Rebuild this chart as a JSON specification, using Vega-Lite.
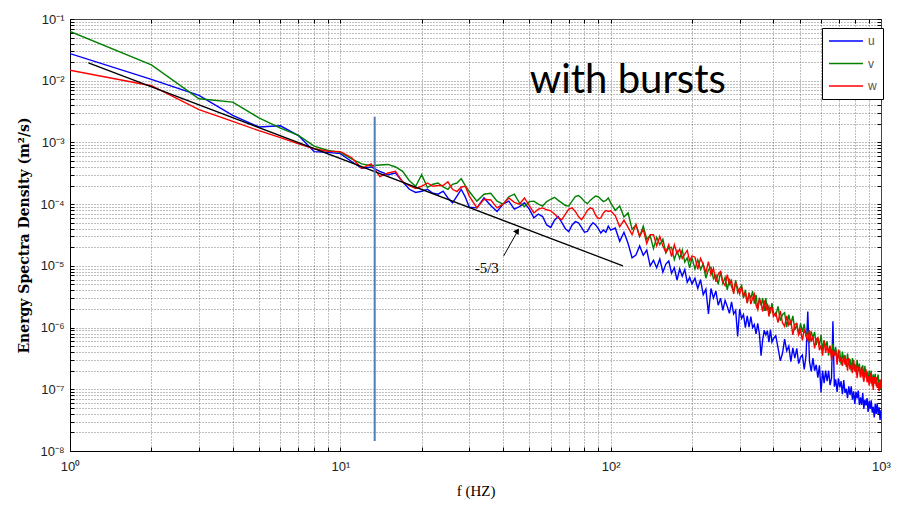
{
  "$schema": "https://vega.github.io/schema/vega-lite/v6.json",
  "width": 811,
  "height": 432,
  "autosize": {"type": "none"},
  "padding": {"left": 70, "top": 19, "right": 18, "bottom": 57},
  "background": "#ffffff",
  "config": {"view": {"stroke": "#222", "strokeWidth": 1}},
  "datasets": {
    "spectra": [
      {"f":1,"u":2.75e-2,"v":6.3e-2,"w":1.48e-2},
      {"f":2,"u":1.05e-2,"v":1.8e-2,"w":8.3e-3},
      {"f":3,"u":5.8e-3,"v":5.1e-3,"w":3.4e-3},
      {"f":4,"u":2.75e-3,"v":4.5e-3,"w":2.2e-3},
      {"f":5,"u":1.78e-3,"v":2.5e-3,"w":1.55e-3},
      {"f":6,"u":1.86e-3,"v":1.7e-3,"w":1.2e-3},
      {"f":7,"u":1.29e-3,"v":1.3e-3,"w":9.5e-4},
      {"f":8,"u":7.1e-4,"v":8.7e-4,"w":7.9e-4},
      {"f":9,"u":6.9e-4,"v":7.4e-4,"w":7.2e-4},
      {"f":10,"u":6.6e-4,"v":6.9e-4,"w":7.1e-4},
      {"f":11,"u":4.9e-4,"v":5.4e-4,"w":5.7e-4},
      {"f":12,"u":3.8e-4,"v":4.5e-4,"w":3.8e-4},
      {"f":13,"u":4.0e-4,"v":4.2e-4,"w":4.5e-4},
      {"f":14,"u":3.4e-4,"v":4.3e-4,"w":2.8e-4},
      {"f":15,"u":3.0e-4,"v":4.4e-4,"w":3.2e-4},
      {"f":16,"u":3.2e-4,"v":4.0e-4,"w":3.4e-4},
      {"f":17,"u":2.3e-4,"v":3.4e-4,"w":2.3e-4},
      {"f":18,"u":1.74e-4,"v":2.4e-4,"w":2.0e-4},
      {"f":19,"u":1.55e-4,"v":1.95e-4,"w":1.8e-4},
      {"f":20,"u":1.62e-4,"v":3.0e-4,"w":1.95e-4},
      {"f":21,"u":1.74e-4,"v":1.86e-4,"w":2.2e-4},
      {"f":22,"u":1.5e-4,"v":2.1e-4,"w":1.95e-4},
      {"f":23,"u":1.45e-4,"v":2.2e-4,"w":2.0e-4},
      {"f":24,"u":1.62e-4,"v":1.9e-4,"w":2.0e-4},
      {"f":25,"u":1.26e-4,"v":1.74e-4,"w":2.3e-4},
      {"f":26,"u":1.05e-4,"v":2.1e-4,"w":1.74e-4},
      {"f":27,"u":1.35e-4,"v":2.2e-4,"w":1.6e-4},
      {"f":28,"u":1.74e-4,"v":2.6e-4,"w":1.9e-4},
      {"f":29,"u":1.3e-4,"v":2.0e-4,"w":1.95e-4},
      {"f":30,"u":8.9e-5,"v":1.6e-4,"w":1.35e-4},
      {"f":32,"u":8.7e-5,"v":1.12e-4,"w":8.7e-5},
      {"f":34,"u":1.26e-4,"v":1.45e-4,"w":1.2e-4},
      {"f":36,"u":9.5e-5,"v":1.5e-4,"w":1.17e-4},
      {"f":38,"u":7.6e-5,"v":1.12e-4,"w":8.7e-5},
      {"f":40,"u":1.0e-4,"v":1.0e-4,"w":1.0e-4},
      {"f":42,"u":1.12e-4,"v":1.32e-4,"w":1.26e-4},
      {"f":44,"u":8.3e-5,"v":1.45e-4,"w":1.07e-4},
      {"f":46,"u":9.1e-5,"v":1.05e-4,"w":1.0e-4},
      {"f":48,"u":1.05e-4,"v":9.1e-5,"w":1.26e-4},
      {"f":50,"u":8.3e-5,"v":1.1e-4,"w":9.5e-5},
      {"f":52,"u":6.0e-5,"v":1.12e-4,"w":7.2e-5},
      {"f":54,"u":6.9e-5,"v":1.0e-4,"w":8.3e-5},
      {"f":56,"u":6.3e-5,"v":9.3e-5,"w":8.7e-5},
      {"f":58,"u":4.6e-5,"v":1.1e-4,"w":8.1e-5},
      {"f":60,"u":4.2e-5,"v":1.2e-4,"w":7.8e-5},
      {"f":62,"u":5.5e-5,"v":1.29e-4,"w":6.9e-5},
      {"f":64,"u":6.3e-5,"v":1.15e-4,"w":6.0e-5},
      {"f":66,"u":5.0e-5,"v":1.05e-4,"w":5.6e-5},
      {"f":68,"u":4.0e-5,"v":9.5e-5,"w":6.9e-5},
      {"f":70,"u":3.6e-5,"v":9.3e-5,"w":8.3e-5},
      {"f":72,"u":4.6e-5,"v":1.12e-4,"w":8.7e-5},
      {"f":74,"u":5.2e-5,"v":1.32e-4,"w":7.6e-5},
      {"f":76,"u":5.0e-5,"v":1.38e-4,"w":6.3e-5},
      {"f":78,"u":4.2e-5,"v":1.26e-4,"w":5.6e-5},
      {"f":80,"u":3.5e-5,"v":1.1e-4,"w":6.6e-5},
      {"f":82,"u":3.6e-5,"v":1.02e-4,"w":7.9e-5},
      {"f":84,"u":4.4e-5,"v":1.15e-4,"w":8.7e-5},
      {"f":86,"u":5.0e-5,"v":1.26e-4,"w":8.3e-5},
      {"f":88,"u":4.6e-5,"v":1.35e-4,"w":6.6e-5},
      {"f":90,"u":4.0e-5,"v":1.32e-4,"w":5.8e-5},
      {"f":92,"u":3.4e-5,"v":1.2e-4,"w":6.0e-5},
      {"f":94,"u":3.8e-5,"v":1.1e-4,"w":7.2e-5},
      {"f":96,"u":3.5e-5,"v":1.15e-4,"w":7.9e-5},
      {"f":98,"u":4.4e-5,"v":1.26e-4,"w":7.6e-5},
      {"f":100,"u":3.8e-5,"v":1.05e-4,"w":7.8e-5},
      {"f":104,"u":4.1e-5,"v":7.9e-5,"w":6.5e-5},
      {"f":108,"u":2.5e-5,"v":9.3e-5,"w":4.3e-5},
      {"f":112,"u":3.5e-5,"v":6.2e-5,"w":5.5e-5},
      {"f":116,"u":2.3e-5,"v":7.2e-5,"w":4.2e-5},
      {"f":120,"u":1.35e-5,"v":3.9e-5,"w":3.2e-5},
      {"f":124,"u":1.5e-5,"v":4.6e-5,"w":4.7e-5},
      {"f":128,"u":2.1e-5,"v":3.0e-5,"w":3.0e-5},
      {"f":132,"u":1.48e-5,"v":4.4e-5,"w":3.9e-5},
      {"f":136,"u":1.8e-5,"v":2.7e-5,"w":2.3e-5},
      {"f":140,"u":1.0e-5,"v":3.1e-5,"w":3.2e-5},
      {"f":144,"u":1.23e-5,"v":1.9e-5,"w":3.2e-5},
      {"f":148,"u":9.3e-6,"v":2.9e-5,"w":2.1e-5},
      {"f":152,"u":1.29e-5,"v":2.2e-5,"w":3.0e-5},
      {"f":156,"u":7.9e-6,"v":2.7e-5,"w":2.1e-5},
      {"f":160,"u":1.07e-5,"v":1.62e-5,"w":1.66e-5},
      {"f":164,"u":1.2e-5,"v":1.95e-5,"w":2.2e-5},
      {"f":168,"u":7.6e-6,"v":2.0e-5,"w":1.41e-5},
      {"f":172,"u":9.3e-6,"v":1.26e-5,"w":2.2e-5},
      {"f":176,"u":5.9e-6,"v":1.74e-5,"w":1.58e-5},
      {"f":180,"u":8.9e-6,"v":1.32e-5,"w":1.86e-5},
      {"f":184,"u":6.8e-6,"v":1.8e-5,"w":1.32e-5},
      {"f":188,"u":8.7e-6,"v":1.15e-5,"w":1.55e-5},
      {"f":192,"u":5.4e-6,"v":1.35e-5,"w":1.78e-5},
      {"f":196,"u":6.5e-6,"v":9.3e-6,"w":1.2e-5},
      {"f":200,"u":5.1e-6,"v":1.35e-5,"w":1.45e-5},
      {"f":205,"u":6.3e-6,"v":8.9e-6,"w":1.38e-5},
      {"f":210,"u":4.3e-6,"v":1.26e-5,"w":8.9e-6},
      {"f":215,"u":6.0e-6,"v":8.7e-6,"w":1.32e-5},
      {"f":220,"u":3.4e-6,"v":1.07e-5,"w":1.05e-5},
      {"f":225,"u":4.2e-6,"v":6.3e-6,"w":7.8e-6},
      {"f":230,"u":1.66e-6,"v":8.7e-6,"w":1.17e-5},
      {"f":235,"u":4.3e-6,"v":9.5e-6,"w":7.2e-6},
      {"f":240,"u":3.0e-6,"v":6.2e-6,"w":9.1e-6},
      {"f":245,"u":3.9e-6,"v":7.1e-6,"w":5.5e-6},
      {"f":250,"u":2.3e-6,"v":5.0e-6,"w":7.4e-6},
      {"f":255,"u":3.0e-6,"v":8.1e-6,"w":8.1e-6},
      {"f":260,"u":1.9e-6,"v":5.2e-6,"w":5.5e-6},
      {"f":265,"u":2.75e-6,"v":6.5e-6,"w":4.8e-6},
      {"f":270,"u":2.2e-6,"v":4.1e-6,"w":7.2e-6},
      {"f":275,"u":1.7e-6,"v":6.2e-6,"w":5.0e-6},
      {"f":280,"u":2.6e-6,"v":4.6e-6,"w":5.8e-6},
      {"f":285,"u":1.66e-6,"v":3.8e-6,"w":3.5e-6},
      {"f":290,"u":1.9e-6,"v":5.8e-6,"w":5.4e-6},
      {"f":295,"u":7.2e-7,"v":3.7e-6,"w":4.4e-6},
      {"f":300,"u":2.0e-6,"v":4.3e-6,"w":3.5e-6},
      {"f":305,"u":1.41e-6,"v":4.8e-6,"w":4.6e-6},
      {"f":310,"u":1.62e-6,"v":3.0e-6,"w":3.2e-6},
      {"f":315,"u":1.0e-6,"v":4.1e-6,"w":3.7e-6},
      {"f":320,"u":1.55e-6,"v":2.5e-6,"w":2.5e-6},
      {"f":325,"u":1.02e-6,"v":3.5e-6,"w":3.7e-6},
      {"f":330,"u":1.51e-6,"v":3.0e-6,"w":2.4e-6},
      {"f":335,"u":1.0e-6,"v":3.9e-6,"w":3.0e-6},
      {"f":340,"u":1.12e-6,"v":2.45e-6,"w":3.5e-6},
      {"f":345,"u":7.9e-7,"v":3.4e-6,"w":2.3e-6},
      {"f":350,"u":1.17e-6,"v":2.0e-6,"w":1.95e-6},
      {"f":355,"u":7.9e-7,"v":3.0e-6,"w":2.9e-6},
      {"f":360,"u":3.5e-7,"v":2.3e-6,"w":2.5e-6},
      {"f":365,"u":6.3e-7,"v":3.0e-6,"w":1.82e-6},
      {"f":370,"u":9.1e-7,"v":1.86e-6,"w":2.75e-6},
      {"f":375,"u":7.6e-7,"v":3.0e-6,"w":1.86e-6},
      {"f":380,"u":8.9e-7,"v":1.9e-6,"w":2.45e-6},
      {"f":385,"u":5.8e-7,"v":2.2e-6,"w":1.51e-6},
      {"f":390,"u":9.3e-7,"v":1.7e-6,"w":2.1e-6},
      {"f":395,"u":5.8e-7,"v":2.5e-6,"w":2.1e-6},
      {"f":400,"u":6.6e-7,"v":1.74e-6,"w":1.51e-6},
      {"f":408,"u":7.4e-7,"v":1.55e-6,"w":1.74e-6},
      {"f":416,"u":4.7e-7,"v":2.2e-6,"w":1.2e-6},
      {"f":424,"u":2.9e-7,"v":1.29e-6,"w":1.86e-6},
      {"f":432,"u":3.8e-7,"v":1.62e-6,"w":1.2e-6},
      {"f":440,"u":6.5e-7,"v":1.74e-6,"w":1.05e-6},
      {"f":448,"u":4.2e-7,"v":1.02e-6,"w":1.55e-6},
      {"f":456,"u":5.0e-7,"v":1.62e-6,"w":1.1e-6},
      {"f":464,"u":2.8e-7,"v":1.1e-6,"w":1.29e-6},
      {"f":472,"u":4.7e-7,"v":1.55e-6,"w":7.6e-7},
      {"f":480,"u":3.2e-7,"v":9.1e-7,"w":1.12e-6},
      {"f":488,"u":4.6e-7,"v":1.1e-6,"w":1.17e-6},
      {"f":496,"u":2.6e-7,"v":7.8e-7,"w":7.6e-7},
      {"f":504,"u":3.3e-7,"v":1.17e-6,"w":9.1e-7},
      {"f":512,"u":3.6e-7,"v":8.5e-7,"w":6.2e-7},
      {"f":520,"u":2.1e-7,"v":1.15e-6,"w":9.5e-7},
      {"f":528,"u":3.5e-7,"v":7.1e-7,"w":7.6e-7},
      {"f":536,"u":1.82e-6,"v":8.9e-7,"w":5.9e-7},
      {"f":544,"u":2.8e-7,"v":5.6e-7,"w":9.1e-7},
      {"f":552,"u":1.95e-7,"v":8.7e-7,"w":5.9e-7},
      {"f":560,"u":3.2e-7,"v":6.8e-7,"w":7.2e-7},
      {"f":568,"u":2.0e-7,"v":8.5e-7,"w":4.6e-7},
      {"f":576,"u":2.5e-7,"v":5.2e-7,"w":6.5e-7},
      {"f":584,"u":1.55e-7,"v":6.8e-7,"w":6.9e-7},
      {"f":592,"u":2.45e-7,"v":5.1e-7,"w":4.3e-7},
      {"f":600,"u":8.9e-8,"v":7.6e-7,"w":5.2e-7},
      {"f":608,"u":2.0e-7,"v":4.3e-7,"w":3.5e-7},
      {"f":616,"u":1.26e-7,"v":6.2e-7,"w":6.2e-7},
      {"f":624,"u":2.0e-7,"v":4.8e-7,"w":3.9e-7},
      {"f":632,"u":1.35e-7,"v":6.0e-7,"w":5.1e-7},
      {"f":640,"u":2.0e-7,"v":3.5e-7,"w":3.9e-7},
      {"f":648,"u":1.17e-7,"v":5.0e-7,"w":5.1e-7},
      {"f":656,"u":1.51e-7,"v":3.5e-7,"w":3.0e-7},
      {"f":664,"u":1.26e-6,"v":5.5e-7,"w":4.3e-7},
      {"f":672,"u":1.1e-7,"v":3.6e-7,"w":3.5e-7},
      {"f":680,"u":1.45e-7,"v":4.8e-7,"w":4.3e-7},
      {"f":688,"u":9.1e-8,"v":2.9e-7,"w":2.5e-7},
      {"f":696,"u":1.51e-7,"v":3.9e-7,"w":4.4e-7},
      {"f":704,"u":1.07e-7,"v":4.1e-7,"w":2.75e-7},
      {"f":712,"u":1.35e-7,"v":2.5e-7,"w":3.3e-7},
      {"f":720,"u":8.3e-8,"v":4.1e-7,"w":2.4e-7},
      {"f":728,"u":1.41e-7,"v":2.8e-7,"w":3.5e-7},
      {"f":736,"u":8.7e-8,"v":3.6e-7,"w":2.5e-7},
      {"f":744,"u":1.02e-7,"v":2.3e-7,"w":3.1e-7},
      {"f":752,"u":7.2e-8,"v":3.8e-7,"w":2.0e-7},
      {"f":760,"u":1.12e-7,"v":2.6e-7,"w":3.2e-7},
      {"f":768,"u":8.1e-8,"v":3.1e-7,"w":2.1e-7},
      {"f":776,"u":1.12e-7,"v":2.0e-7,"w":2.45e-7},
      {"f":784,"u":6.8e-8,"v":3.2e-7,"w":1.82e-7},
      {"f":792,"u":9.3e-8,"v":2.1e-7,"w":3.0e-7},
      {"f":800,"u":5.8e-8,"v":2.6e-7,"w":1.95e-7},
      {"f":808,"u":9.1e-8,"v":1.86e-7,"w":2.45e-7},
      {"f":816,"u":7.1e-8,"v":3.0e-7,"w":1.51e-7},
      {"f":824,"u":9.5e-8,"v":1.95e-7,"w":2.2e-7},
      {"f":832,"u":5.6e-8,"v":2.6e-7,"w":2.3e-7},
      {"f":840,"u":7.4e-8,"v":1.58e-7,"w":1.55e-7},
      {"f":848,"u":5.6e-8,"v":2.1e-7,"w":2.3e-7},
      {"f":856,"u":8.7e-8,"v":2.45e-7,"w":1.66e-7},
      {"f":864,"u":4.8e-8,"v":1.55e-7,"w":1.32e-7},
      {"f":872,"u":6.8e-8,"v":2.4e-7,"w":1.86e-7},
      {"f":880,"u":5.5e-8,"v":1.55e-7,"w":2.1e-7},
      {"f":888,"u":7.2e-8,"v":1.95e-7,"w":1.29e-7},
      {"f":896,"u":4.3e-8,"v":1.35e-7,"w":1.62e-7},
      {"f":904,"u":6.5e-8,"v":2.0e-7,"w":1.15e-7},
      {"f":912,"u":4.8e-8,"v":1.55e-7,"w":1.82e-7},
      {"f":920,"u":6.6e-8,"v":2.0e-7,"w":1.23e-7},
      {"f":928,"u":4.2e-8,"v":1.12e-7,"w":1.58e-7},
      {"f":936,"u":5.2e-8,"v":1.74e-7,"w":9.8e-8},
      {"f":944,"u":3.5e-8,"v":1.32e-7,"w":1.58e-7},
      {"f":952,"u":5.8e-8,"v":1.78e-7,"w":1.23e-7},
      {"f":960,"u":4.0e-8,"v":1.12e-7,"w":1.58e-7},
      {"f":968,"u":5.9e-8,"v":1.45e-7,"w":1.05e-7},
      {"f":976,"u":4.0e-8,"v":1.74e-7,"w":1.29e-7},
      {"f":984,"u":5.1e-8,"v":1.1e-7,"w":9.3e-8},
      {"f":992,"u":3.2e-8,"v":1.41e-7,"w":1.45e-7},
      {"f":1000,"u":4.6e-8,"v":9.8e-8,"w":1.02e-7}
    ]
  },
  "resolve": {"axis": {"x": "independent", "y": "independent"}},
  "layer": [
    {
      "data": {"name": "spectra"},
      "transform": [{"fold": ["u", "v", "w"], "as": ["series", "value"]}],
      "mark": {"type": "line", "strokeWidth": 1.4, "clip": true},
      "encoding": {
        "x": {
          "field": "f", "type": "quantitative",
          "scale": {"type": "log", "domain": [1, 1000], "nice": false},
          "axis": {
            "orient": "bottom",
            "values": [1,2,3,4,5,6,7,8,9,10,20,30,40,50,60,70,80,90,100,200,300,400,500,600,700,800,900,1000],
            "labelExpr": "abs(log(datum.value)/LN10 - round(log(datum.value)/LN10)) < 0.01 ? '10' + substring('⁰¹²³⁴⁵⁶⁷⁸⁹', round(log(datum.value)/LN10), round(log(datum.value)/LN10) + 1) : ''",
            "labelOverlap": false, "labelFlush": false,
            "labelFont": "Liberation Sans Narrow, Liberation Sans", "labelFontSize": 13, "labelColor": "#222",
            "labelPadding": 13,
            "grid": true, "gridDash": [1, 2], "gridColor": "#222", "gridWidth": 0.7, "gridOpacity": 0.85,
            "ticks": true, "tickSize": -4, "tickColor": "#000", "domainColor": "#000",
            "title": "f (HZ)", "titleFont": "Liberation Serif", "titleFontSize": 15, "titleFontWeight": "normal", "titleColor": "#000", "titlePadding": 10
          }
        },
        "y": {
          "field": "value", "type": "quantitative",
          "scale": {"type": "log", "domain": [1e-8, 0.1], "nice": false},
          "axis": {
            "orient": "left",
            "values": [1e-8,2e-8,3e-8,4e-8,5e-8,6e-8,7e-8,8e-8,9e-8,1e-7,2e-7,3e-7,4e-7,5e-7,6e-7,7e-7,8e-7,9e-7,1e-6,2e-6,3e-6,4e-6,5e-6,6e-6,7e-6,8e-6,9e-6,1e-5,2e-5,3e-5,4e-5,5e-5,6e-5,7e-5,8e-5,9e-5,1e-4,2e-4,3e-4,4e-4,5e-4,6e-4,7e-4,8e-4,9e-4,1e-3,2e-3,3e-3,4e-3,5e-3,6e-3,7e-3,8e-3,9e-3,0.01,0.02,0.03,0.04,0.05,0.06,0.07,0.08,0.09,0.1],
            "labelExpr": "abs(log(datum.value)/LN10 - round(log(datum.value)/LN10)) < 0.01 ? '10⁻' + substring('⁰¹²³⁴⁵⁶⁷⁸⁹', -round(log(datum.value)/LN10), -round(log(datum.value)/LN10) + 1) : ''",
            "labelOverlap": false, "labelFlush": false,
            "labelFont": "Liberation Sans Narrow, Liberation Sans", "labelFontSize": 13, "labelColor": "#222",
            "labelPadding": 10,
            "grid": true, "gridDash": [1, 2], "gridColor": "#222", "gridWidth": 0.7, "gridOpacity": 0.85,
            "ticks": true, "tickSize": -4, "tickColor": "#000", "domainColor": "#000",
            "title": "Energy Spectra Density  (m²/s)", "titleFont": "DejaVu Serif", "titleFontSize": 14, "titleFontWeight": "bold", "titleColor": "#000", "titlePadding": 8
          }
        },
        "color": {
          "field": "series", "type": "nominal",
          "scale": {"domain": ["u", "v", "w"], "range": ["#0000ff", "#008000", "#ff0000"]},
          "legend": {
            "orient": "none", "legendX": 752, "legendY": 9, "title": null,
            "symbolType": "stroke", "symbolSize": 1150, "symbolStrokeWidth": 1.5,
            "clipHeight": 14, "rowPadding": 8.5, "padding": 6,
            "strokeColor": "#000", "fillColor": "#fff",
            "labelFont": "Liberation Sans", "labelFontSize": 12, "labelColor": "#555", "labelOffset": 4
          }
        }
      }
    },
    {
      "data": {"values": [{"f": 1.17, "S": 0.0195}, {"f": 111, "S": 1.0e-5}]},
      "mark": {"type": "line", "color": "#000", "strokeWidth": 1.3},
      "encoding": {
        "x": {
          "field": "f", "type": "quantitative",
          "scale": {"type": "log", "domain": [1, 1000], "nice": false},
          "axis": {
            "orient": "top", "labels": false, "grid": false, "title": null,
            "values": [1,2,3,4,5,6,7,8,9,10,20,30,40,50,60,70,80,90,100,200,300,400,500,600,700,800,900,1000],
            "tickSize": -4, "tickColor": "#000", "domainColor": "#444"
          }
        },
        "y": {
          "field": "S", "type": "quantitative",
          "scale": {"type": "log", "domain": [1e-8, 0.1], "nice": false},
          "axis": {
            "orient": "right", "labels": false, "grid": false, "title": null,
            "values": [1e-8,2e-8,3e-8,4e-8,5e-8,6e-8,7e-8,8e-8,9e-8,1e-7,2e-7,3e-7,4e-7,5e-7,6e-7,7e-7,8e-7,9e-7,1e-6,2e-6,3e-6,4e-6,5e-6,6e-6,7e-6,8e-6,9e-6,1e-5,2e-5,3e-5,4e-5,5e-5,6e-5,7e-5,8e-5,9e-5,1e-4,2e-4,3e-4,4e-4,5e-4,6e-4,7e-4,8e-4,9e-4,1e-3,2e-3,3e-3,4e-3,5e-3,6e-3,7e-3,8e-3,9e-3,0.01,0.02,0.03,0.04,0.05,0.06,0.07,0.08,0.09,0.1],
            "tickSize": -4, "tickColor": "#000", "domainColor": "#444"
          }
        }
      }
    },
    {
      "data": {"values": [{"f": 13.4, "lo": 1.45e-8, "hi": 2.6e-3}]},
      "mark": {"type": "rule", "color": "#4F7DBA", "strokeWidth": 2},
      "encoding": {
        "x": {"field": "f", "type": "quantitative", "scale": {"type": "log", "domain": [1, 1000], "nice": false}, "axis": null},
        "y": {"field": "lo", "type": "quantitative", "scale": {"type": "log", "domain": [1e-8, 0.1], "nice": false}, "axis": null},
        "y2": {"field": "hi"}
      }
    },
    {
      "data": {"values": [{"f1": 40.2, "s1": 1.45e-5, "f2": 45.5, "s2": 3.8e-5}]},
      "mark": {"type": "rule", "color": "#000", "strokeWidth": 1},
      "encoding": {
        "x": {"field": "f1", "type": "quantitative", "scale": {"type": "log", "domain": [1, 1000], "nice": false}, "axis": null},
        "y": {"field": "s1", "type": "quantitative", "scale": {"type": "log", "domain": [1e-8, 0.1], "nice": false}, "axis": null},
        "x2": {"field": "f2"},
        "y2": {"field": "s2"}
      }
    },
    {
      "data": {"values": [{"f": 45.2, "S": 3.7e-5}]},
      "mark": {"type": "point", "shape": "triangle-up", "filled": true, "color": "#000", "size": 45, "angle": 34, "opacity": 1},
      "encoding": {
        "x": {"field": "f", "type": "quantitative", "scale": {"type": "log", "domain": [1, 1000], "nice": false}, "axis": null},
        "y": {"field": "S", "type": "quantitative", "scale": {"type": "log", "domain": [1e-8, 0.1], "nice": false}, "axis": null}
      }
    },
    {
      "data": {"values": [{"f": 34.8, "S": 9.3e-6, "label": "-5/3"}]},
      "mark": {"type": "text", "font": "Liberation Serif", "fontSize": 15, "color": "#000", "align": "center", "baseline": "middle"},
      "encoding": {
        "x": {"field": "f", "type": "quantitative", "scale": {"type": "log", "domain": [1, 1000], "nice": false}, "axis": null},
        "y": {"field": "S", "type": "quantitative", "scale": {"type": "log", "domain": [1e-8, 0.1], "nice": false}, "axis": null},
        "text": {"field": "label"}
      }
    },
    {
      "data": {"values": [{"f": 50.2, "S": 6.4e-3, "label": "with bursts"}]},
      "mark": {"type": "text", "font": "Lato", "fontSize": 40, "color": "#000", "align": "left", "baseline": "alphabetic"},
      "encoding": {
        "x": {"field": "f", "type": "quantitative", "scale": {"type": "log", "domain": [1, 1000], "nice": false}, "axis": null},
        "y": {"field": "S", "type": "quantitative", "scale": {"type": "log", "domain": [1e-8, 0.1], "nice": false}, "axis": null},
        "text": {"field": "label"}
      }
    }
  ]
}
